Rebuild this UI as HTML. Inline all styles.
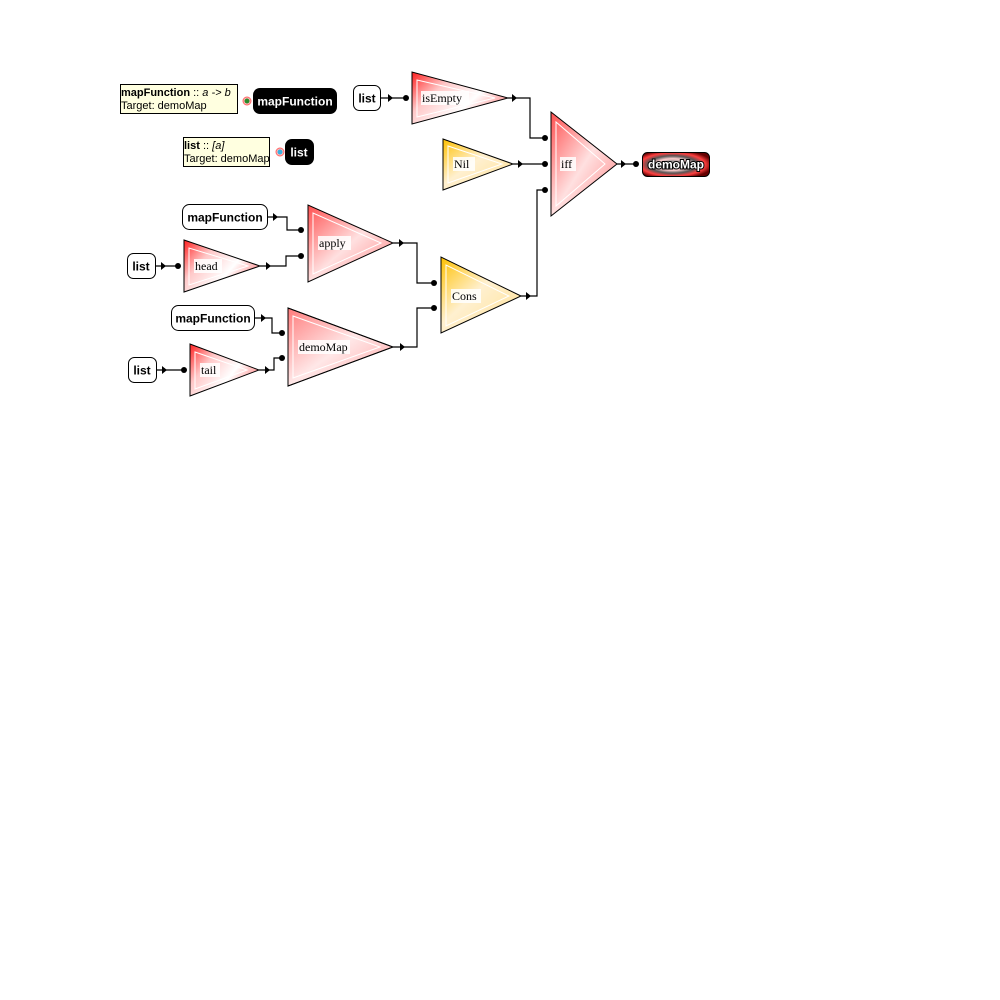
<!DOCTYPE html>
<html><head><meta charset="utf-8"><style>
html,body{margin:0;padding:0;background:#fff;width:1000px;height:1000px;overflow:hidden}
svg{display:block}
.w{stroke:#000;stroke-width:1.2;fill:none}
.sans{font-family:"Liberation Sans",sans-serif;font-weight:bold;font-size:12px}
.serif{font-family:"Liberation Serif",serif;font-size:12px}
</style></head><body>
<svg width="1000" height="1000" viewBox="0 0 1000 1000">
<defs>
<linearGradient id="rg" x1="0" y1="0" x2="1" y2="1">
<stop offset="0" stop-color="#ff5050"/><stop offset="0.5" stop-color="#ffe0e0"/><stop offset="1" stop-color="#ff8080"/></linearGradient>
<linearGradient id="rg2" x1="0" y1="0" x2="1" y2="0.6">
<stop offset="0" stop-color="#ff2020"/><stop offset="0.35" stop-color="#ffc8c8"/><stop offset="0.7" stop-color="#ffffff"/><stop offset="1" stop-color="#ff9090"/></linearGradient>
<linearGradient id="yg" x1="0" y1="0" x2="1" y2="1">
<stop offset="0" stop-color="#ffc000"/><stop offset="0.45" stop-color="#fff0d0"/><stop offset="1" stop-color="#ffe090"/></linearGradient>
<radialGradient id="dm" cx="0.45" cy="0.5" r="0.6">
<stop offset="0" stop-color="#fff"/><stop offset="0.2" stop-color="#888"/><stop offset="0.4" stop-color="#ffd0d0"/><stop offset="0.6" stop-color="#555"/><stop offset="0.8" stop-color="#ff4040"/><stop offset="1" stop-color="#600"/></radialGradient>
<marker id="ar" markerWidth="6" markerHeight="8" refX="5" refY="4" orient="auto"><path d="M0,0 L6,4 L0,8 Z" fill="#000"/></marker>
</defs>

<!-- tooltips -->
<g>
<rect x="120.5" y="84.5" width="117" height="29" fill="#ffffe0" stroke="#000"/>
<text x="121" y="96" font-family="Liberation Sans,sans-serif" font-size="11"><tspan font-weight="bold">mapFunction</tspan> :: <tspan font-style="italic">a -&gt; b</tspan></text>
<text x="121" y="109" font-family="Liberation Sans,sans-serif" font-size="11">Target: demoMap</text>
</g>
<g><circle cx="247" cy="101" r="4" fill="#fbb" stroke="#f66"/><circle cx="247" cy="101" r="2.5" fill="#2a8a2a"/></g>
<g>
<rect x="253" y="88" width="84" height="26" rx="7" fill="#000"/>
<text x="295" y="105.5" text-anchor="middle" class="sans" fill="#fff">mapFunction</text></g>

<g>
<rect x="183.5" y="137.5" width="86" height="29" fill="#ffffe0" stroke="#000"/>
<text x="184" y="149" font-family="Liberation Sans,sans-serif" font-size="11"><tspan font-weight="bold">list</tspan> :: <tspan font-style="italic">[a]</tspan></text>
<text x="184" y="162" font-family="Liberation Sans,sans-serif" font-size="11">Target: demoMap</text>
</g>
<g><circle cx="280" cy="152" r="4" fill="#fbb" stroke="#f66"/><circle cx="280" cy="152" r="2.5" fill="#3ab0e0"/></g>
<g>
<rect x="285" y="139" width="29" height="26" rx="7" fill="#000"/>
<text x="299" y="156.5" text-anchor="middle" class="sans" fill="#fff">list</text></g>

<!-- wires -->
<g>
<path class="w" d="M380,98 H406" marker-mid="url(#ar)"/>
<path class="w" d="M508,98 H530 V138 H545"/>
<path class="w" d="M513,164 H545"/>
<path class="w" d="M617,164 H636"/>
<path class="w" d="M521,296 H537 V190 H545"/>
<path class="w" d="M267,217 H287 V230 H301"/>
<path class="w" d="M155,266 H178"/>
<path class="w" d="M260,266 H286 V256 H301"/>
<path class="w" d="M393,243 H417 V283 H434"/>
<path class="w" d="M254,318 H272 V333 H282"/>
<path class="w" d="M156,370 H184"/>
<path class="w" d="M259,370 H274 V358 H282"/>
<path class="w" d="M393,347 H417 V308 H434"/>
<g fill="#000">
<path d="M388,94 l5,4 l-5,4z"/><path d="M512,94 l5,4 l-5,4z"/><path d="M518,160 l5,4 l-5,4z"/><path d="M621,160 l5,4 l-5,4z"/>
<path d="M526,292 l5,4 l-5,4z"/><path d="M273,213 l5,4 l-5,4z"/><path d="M161,262 l5,4 l-5,4z"/><path d="M266,262 l5,4 l-5,4z"/>
<path d="M399,239 l5,4 l-5,4z"/><path d="M261,314 l5,4 l-5,4z"/><path d="M162,366 l5,4 l-5,4z"/><path d="M265,366 l5,4 l-5,4z"/><path d="M400,343 l5,4 l-5,4z"/>
<circle cx="406" cy="98" r="3"/><circle cx="545" cy="138" r="3"/><circle cx="545" cy="164" r="3"/><circle cx="545" cy="190" r="3"/><circle cx="636" cy="164" r="3"/>
<circle cx="301" cy="230" r="3"/><circle cx="178" cy="266" r="3"/><circle cx="301" cy="256" r="3"/><circle cx="434" cy="283" r="3"/><circle cx="434" cy="308" r="3"/>
<circle cx="282" cy="333" r="3"/><circle cx="184" cy="370" r="3"/><circle cx="282" cy="358" r="3"/>
</g></g>

<!-- boxes -->
<g><rect x="353.5" y="85.5" width="27" height="25" rx="6" fill="#fff" stroke="#000"/><text x="367" y="102.5" text-anchor="middle" class="sans">list</text></g>
<g><rect x="182.5" y="204.5" width="85" height="25" rx="7" fill="#fff" stroke="#000"/><text x="225" y="221.5" text-anchor="middle" class="sans">mapFunction</text></g>
<g><rect x="127.5" y="253.5" width="28" height="25" rx="6" fill="#fff" stroke="#000"/><text x="141" y="270.5" text-anchor="middle" class="sans">list</text></g>
<g><rect x="171.5" y="305.5" width="83" height="25" rx="7" fill="#fff" stroke="#000"/><text x="213" y="322.5" text-anchor="middle" class="sans">mapFunction</text></g>
<g><rect x="128.5" y="357.5" width="28" height="25" rx="6" fill="#fff" stroke="#000"/><text x="142" y="374.5" text-anchor="middle" class="sans">list</text></g>

<!-- triangles -->
<g><path d="M412,72 L412,124 L508,98Z" fill="url(#rg2)" stroke="#000"/><path d="M417,80 L417,117 L495,98Z" fill="none" stroke="#fff"/><rect x="421" y="91" width="48" height="14" fill="#fff" opacity="0.85"/><text x="422" y="102" class="serif">isEmpty</text></g>
<g><path d="M443,139 L443,190 L513,164Z" fill="url(#yg)" stroke="#000"/><path d="M448,146 L448,183 L502,164Z" fill="none" stroke="#fff"/><rect x="453" y="157" width="22" height="14" fill="#fff" opacity="0.85"/><text x="454" y="168" class="serif">Nil</text></g>
<g><path d="M551,112 L551,216 L617,164Z" fill="url(#rg)" stroke="#000"/><path d="M556,122 L556,206 L605,164Z" fill="none" stroke="#fff"/><rect x="560" y="157" width="16" height="14" fill="#fff" opacity="0.85"/><text x="561" y="168" class="serif">iff</text></g>
<g><rect x="642.5" y="152.5" width="67" height="24" rx="5" fill="url(#dm)" stroke="#000"/><text x="676" y="168.5" text-anchor="middle" class="sans" fill="#fff" stroke="#000" stroke-width="2" paint-order="stroke">demoMap</text></g>
<g><path d="M184,240 L184,292 L260,266Z" fill="url(#rg2)" stroke="#000"/><path d="M189,248 L189,285 L248,266Z" fill="none" stroke="#fff"/><rect x="194" y="259" width="28" height="14" fill="#fff" opacity="0.85"/><text x="195" y="270" class="serif">head</text></g>
<g><path d="M308,205 L308,282 L393,243Z" fill="url(#rg)" stroke="#000"/><path d="M313,213 L313,274 L381,243Z" fill="none" stroke="#fff"/><rect x="318" y="236" width="33" height="14" fill="#fff" opacity="0.85"/><text x="319" y="247" class="serif">apply</text></g>
<g><path d="M441,257 L441,333 L521,296Z" fill="url(#yg)" stroke="#000"/><path d="M446,265 L446,326 L509,296Z" fill="none" stroke="#fff"/><rect x="451" y="289" width="30" height="14" fill="#fff" opacity="0.85"/><text x="452" y="300" class="serif">Cons</text></g>
<g><path d="M288,308 L288,386 L393,347Z" fill="url(#rg)" stroke="#000" opacity="0.75"/><path d="M288,308 L288,386 L393,347Z" fill="none" stroke="#000"/><path d="M293,316 L293,378 L380,347Z" fill="none" stroke="#fff"/><rect x="298" y="340" width="52" height="14" fill="#fff" opacity="0.85"/><text x="299" y="351" class="serif">demoMap</text></g>
<g><path d="M190,344 L190,396 L259,370Z" fill="url(#rg2)" stroke="#000"/><path d="M195,352 L195,389 L247,370Z" fill="none" stroke="#fff"/><rect x="200" y="363" width="20" height="14" fill="#fff" opacity="0.85"/><text x="201" y="374" class="serif">tail</text></g>
</svg>
</body></html>
